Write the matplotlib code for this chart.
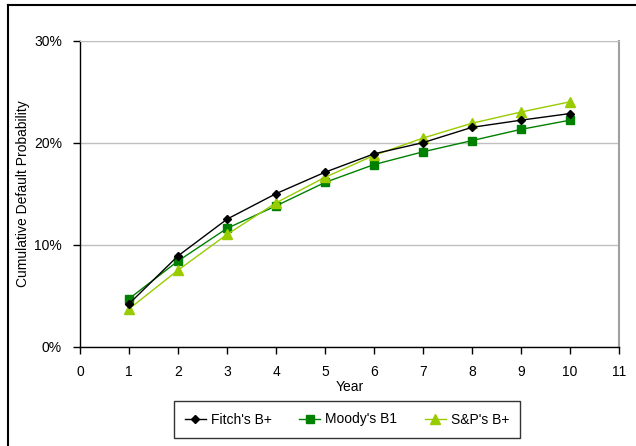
import matplotlib
matplotlib.use("Agg")
import matplotlib.pyplot as plt
from matplotlib.lines import Line2D
from matplotlib.ticker import FuncFormatter

plt.rcParams['font.family'] = ['Liberation Sans', 'DejaVu Sans']

years = [1, 2, 3, 4, 5, 6, 7, 8, 9, 10]
fitch_bplus = [4.2, 8.9, 12.5, 15.0, 17.1, 18.9, 20.0, 21.5, 22.2, 22.85]
moodys_b1 = [4.7, 8.4, 11.6, 13.8, 16.1, 17.85, 19.1, 20.2, 21.3, 22.2]
sp_bplus = [3.7, 7.5, 11.0, 14.1, 16.6, 18.75, 20.45, 21.9, 23.0, 24.0]
series_names = ["Fitch's B+", "Moody's B1", "S&P's B+"]

FS = 10

fig = plt.figure(figsize=(6.36, 4.46), dpi=100)
ax = fig.add_axes([0.1258, 0.2226, 0.9733 - 0.1258, 0.909 - 0.2226])

ax.plot(years, fitch_bplus, color='black', lw=1.0, marker='D', ms=4.5,
        label=series_names[0], zorder=4)
ax.plot(years, moodys_b1, color='#008000', lw=1.0, marker='s', ms=5.5,
        label=series_names[1], zorder=3)
ax.plot(years, sp_bplus, color='#99CC00', lw=1.0, marker='^', ms=6.5,
        label=series_names[2], zorder=3)

ax.set_xlim(0, 11)
ax.set_ylim(0, 30)
ax.set_xticks(range(0, 12))
ax.set_yticks([0, 10, 20, 30])
ax.yaxis.set_major_formatter(FuncFormatter(lambda v, p: f"{int(v)}%"))
ax.grid(axis='y', color='#c0c0c0', lw=1.0)
ax.set_axisbelow(True)

for side in ('left', 'bottom'):
    ax.spines[side].set_color('black')
    ax.spines[side].set_linewidth(1.0)
ax.spines['top'].set_color('#c0c0c0')
ax.spines['right'].set_color('#a0a0a0')
ax.spines['right'].set_linewidth(1.5)

ax.tick_params(axis='both', direction='out', length=5, width=1.0,
               labelsize=FS, colors='black')
ax.tick_params(axis='y', pad=8)
ax.tick_params(axis='x', pad=8)

ax.set_xlabel("Year", fontsize=FS, labelpad=1)
ax.set_ylabel("Cumulative Default Probability", fontsize=FS)
ax.yaxis.set_label_coords(-0.093, 0.5)

handles = [
    Line2D([], [], color='black', lw=1.0, marker='D', ms=4.5),
    Line2D([], [], color='#008000', lw=1.0, marker='s', ms=5.5),
    Line2D([], [], color='#99CC00', lw=1.0, marker='^', ms=6.5),
]
leg = fig.legend(handles, series_names, loc='center', ncol=3,
                 bbox_to_anchor=(347 / 636, 1 - 419.5 / 446),
                 fontsize=FS, frameon=True, fancybox=False,
                 edgecolor='black', handlelength=1.5, handletextpad=0.35,
                 columnspacing=2.0, borderpad=0.8)
leg.get_frame().set_linewidth(1.0)

# outer chart frame (top and left edges)
fig.add_artist(Line2D([8 / 636, 8 / 636], [0, 1 - 5 / 446], color='black',
                      lw=1.5, transform=fig.transFigure))
fig.add_artist(Line2D([8 / 636, 1], [1 - 5 / 446, 1 - 5 / 446], color='black',
                      lw=1.5, transform=fig.transFigure))

fig.savefig("out.png", dpi=100)
